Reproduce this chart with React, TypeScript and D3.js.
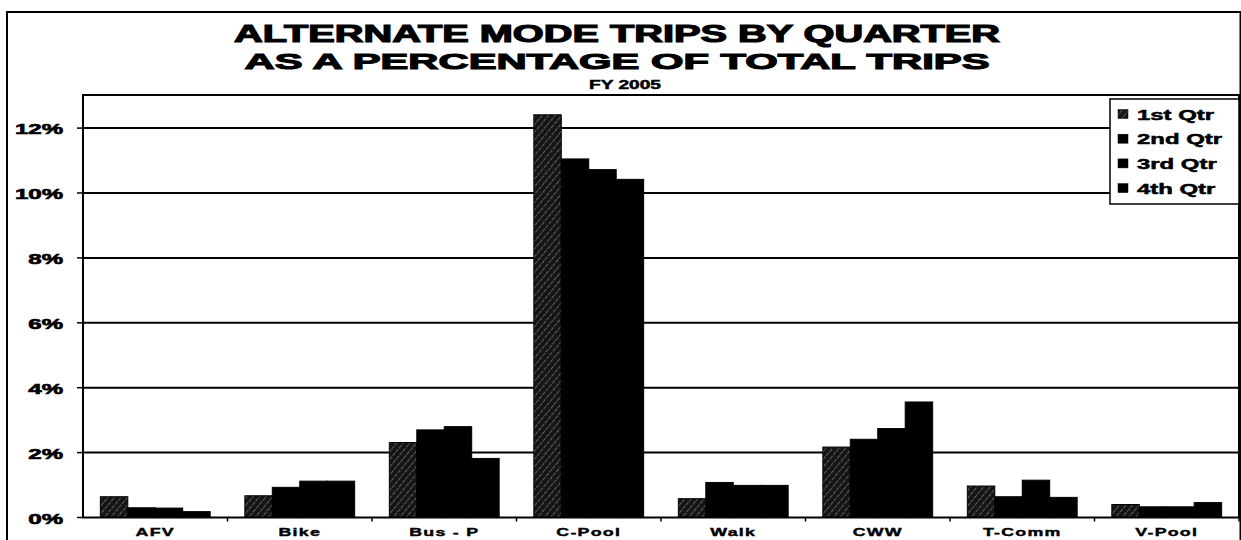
import React from "react";
import * as d3 from "d3";

const categories = ["AFV", "Bike", "Bus - P", "C-Pool", "Walk", "CWW", "T-Comm", "V-Pool"];
const seriesNames = ["1st Qtr", "2nd Qtr", "3rd Qtr", "4th Qtr"];
const q1 = [0.64, 0.67, 2.31, 12.41, 0.58, 2.17, 0.97, 0.40];
const q2 = [0.30, 0.93, 2.70, 11.05, 1.08, 2.41, 0.64, 0.33];
const q3 = [0.29, 1.12, 2.80, 10.72, 0.99, 2.74, 1.15, 0.33];
const q4 = [0.18, 1.12, 1.82, 10.42, 0.99, 3.56, 0.62, 0.46];
const yTicks = [0, 2, 4, 6, 8, 10, 12];
const titleLines = ["ALTERNATE MODE TRIPS BY QUARTER", "AS A PERCENTAGE OF TOTAL TRIPS"];
const subtitle = "FY 2005";

const series = [q1, q2, q3, q4];
const FONT = "'Liberation Sans', Arial, sans-serif";

const W = 1241;
const H = 540;
const plot = { left: 83, right: 1239, top: 95, bottom: 517.5 };

function SText(props: any) {
  const { x, y, sx = 1.6, anchor = "start", size = 12, children, spacing = 0, sw = 0.5 } = props;
  return (
    <text
      transform={`translate(${x},${y}) scale(${sx},1)`}
      textAnchor={anchor}
      fontSize={size}
      fontWeight="bold"
      fontFamily={FONT}
      letterSpacing={spacing}
      fill="#000"
      stroke="#000"
      strokeWidth={sw}
    >
      {children}
    </text>
  );
}

export default function App() {
  const y = d3.scaleLinear().domain([0, 13]).range([plot.bottom, plot.bottom - 13 * 32.45]);
  const x0 = d3.scaleBand<string>().domain(categories).range([plot.left, plot.right]).paddingInner(0.24).paddingOuter(0.12);
  const x1 = d3.scaleBand<string>().domain(seriesNames).range([0, x0.bandwidth()]).padding(0);
  const step = x0.step();

  return (
    <div style={{ position: "absolute", left: 0, top: 0, width: W, height: H, overflow: "hidden", background: "#fff" }}>
      <svg width={W} height={H} style={{ display: "block" }}>
        <defs>
          <pattern id="hatch" patternUnits="userSpaceOnUse" width="5" height="5" patternTransform="rotate(40)">
            <rect width="5" height="5" fill="#151515" />
            <line x1="0" y1="0" x2="0" y2="5" stroke="#a8a8a8" strokeWidth="1" strokeDasharray="2 1" />
          </pattern>
        </defs>
        <rect x={0} y={0} width={W} height={H} fill="#fff" />
        {/* outer frame */}
        <path d={`M7,${H} L7,12 L${W - 0.5},12 L${W - 0.5},${H}`} fill="none" stroke="#000" strokeWidth={2} />

        {/* titles */}
        <text x={617} y={42} textAnchor="middle" fontSize={23} fontWeight="bold" fontFamily={FONT} stroke="#000" strokeWidth={1.1} textLength={766} lengthAdjust="spacingAndGlyphs">{titleLines[0]}</text>
        <text x={617} y={69} textAnchor="middle" fontSize={22} fontWeight="bold" fontFamily={FONT} stroke="#000" strokeWidth={1.1} textLength={745} lengthAdjust="spacingAndGlyphs">{titleLines[1]}</text>
        <text x={625} y={89} textAnchor="middle" fontSize={13} fontWeight="bold" fontFamily={FONT} stroke="#000" strokeWidth={0.5} textLength={72} lengthAdjust="spacingAndGlyphs">{subtitle}</text>

        {/* gridlines */}
        {yTicks.filter((t) => t > 0).map((t) => (
          <line key={t} x1={plot.left} x2={plot.right} y1={y(t)} y2={y(t)} stroke="#000" strokeWidth={2} />
        ))}
        {/* y ticks and labels */}
        {yTicks.map((t) => (
          <g key={"yt" + t}>
            <line x1={plot.left - 6} x2={plot.left} y1={y(t)} y2={y(t)} stroke="#000" strokeWidth={1.5} />
            <SText x={63} y={y(t) + 6} anchor="end" size={15.5} sx={1.55} sw={0.7}>{`${t}%`}</SText>
          </g>
        ))}

        {/* bars */}
        {categories.map((c, ci) => (
          <g key={c} transform={`translate(${x0(c)},0)`}>
            {seriesNames.map((s, si) => {
              const v = series[si][ci];
              return (
                <rect
                  key={s}
                  x={x1(s)}
                  y={y(v)}
                  width={x1.bandwidth()}
                  height={y(0) - y(v)}
                  fill={si === 0 ? "url(#hatch)" : "#000"}
                  stroke="#000"
                  strokeWidth={1}
                />
              );
            })}
          </g>
        ))}

        {/* plot frame */}
        <rect x={plot.left} y={plot.top} width={plot.right - plot.left} height={plot.bottom - plot.top} fill="none" stroke="#000" strokeWidth={2} />
        {/* x axis ticks */}
        {categories.map((c, i) => (
          <line key={"xt" + i} x1={plot.left + step * (i + 1)} x2={plot.left + step * (i + 1)} y1={plot.bottom} y2={plot.bottom + 4} stroke="#000" strokeWidth={1.5} />
        ))}
        {/* category labels */}
        {categories.map((c) => (
          <SText key={"cl" + c} x={(x0(c) as number) + x0.bandwidth() / 2} y={536} anchor="middle" size={11.5} sx={1.55} spacing={0.8} sw={0.4}>{c}</SText>
        ))}

        {/* legend */}
        <rect x={1110} y={99} width={129} height={105} fill="#fff" stroke="#000" strokeWidth={1.5} />
        {seriesNames.map((s, i) => {
          const cy = 114 + i * 24.7;
          return (
            <g key={"lg" + s}>
              <rect x={1118} y={cy - 4.5} width={10} height={9} fill={i === 0 ? "url(#hatch)" : "#000"} stroke="#000" strokeWidth={0.5} />
              <SText x={1137} y={cy + 5.5} size={14.5} sx={1.65} sw={0.5}>{s}</SText>
            </g>
          );
        })}
      </svg>
    </div>
  );
}
